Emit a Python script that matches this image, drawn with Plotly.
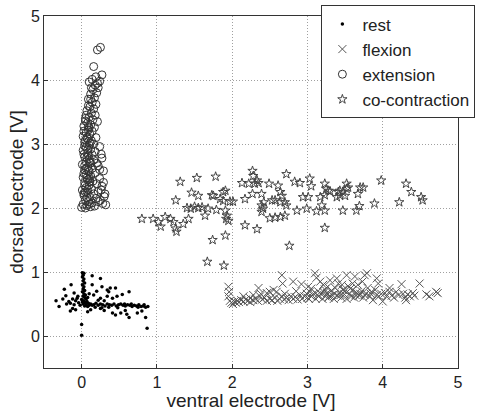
import plotly.graph_objects as go

# ---- data ----
rest_x = [0.01,0.03,0.02,0.01,0.03,0.02,0.04,0.01,0.03,0.02,0.04,0.01,0.03,0.05,0.02,0.04,0.06,0.00,0.03,0.07,0.01,0.05,0.09,0.02,0.06,0.10,0.04,0.08,0.12,0.14,0.00,0.00,
          -0.34,-0.30,-0.23,-0.14,-0.21,-0.17,-0.15,-0.10,-0.12,-0.08,-0.10,-0.06,-0.15,-0.04,-0.02,-0.05,-0.20,-0.25,-0.08,-0.12,
          0.14,0.25,0.14,0.27,0.34,0.36,0.38,0.45,0.16,0.25,0.34,0.41,0.47,0.54,0.63,0.20,0.10,0.30,0.22,0.08,
          0.16,0.19,0.22,0.25,0.28,0.31,0.34,0.37,0.40,0.43,0.46,0.49,0.52,0.55,0.58,0.61,0.64,0.67,0.70,0.73,0.76,0.79,0.82,0.85,0.88,0.18,0.27,0.36,0.48,0.57,0.66,0.75,0.83,
          0.25,0.41,0.45,0.52,0.60,0.63,0.74,0.80,0.85,0.87,0.08,0.12,0.30,0.58]
rest_y = [0.99,0.98,0.95,0.92,0.89,0.86,0.83,0.80,0.77,0.74,0.71,0.69,0.66,0.64,0.62,0.60,0.58,0.57,0.55,0.54,0.53,0.52,0.51,0.50,0.49,0.48,0.47,0.46,0.50,0.48,0.18,0.01,
          0.55,0.46,0.73,0.80,0.63,0.54,0.51,0.49,0.43,0.41,0.67,0.59,0.39,0.52,0.48,0.62,0.50,0.58,0.55,0.58,
          0.94,0.90,0.80,0.77,0.72,0.69,0.75,0.75,0.64,0.59,0.62,0.59,0.62,0.65,0.69,0.70,0.66,0.55,0.56,0.60,
          0.49,0.51,0.48,0.50,0.49,0.47,0.50,0.49,0.48,0.50,0.47,0.49,0.50,0.48,0.47,0.49,0.48,0.46,0.48,0.47,0.49,0.46,0.47,0.45,0.46,0.45,0.44,0.45,0.44,0.50,0.50,0.45,0.49,
          0.43,0.36,0.33,0.36,0.34,0.29,0.36,0.39,0.29,0.12,0.38,0.41,0.40,0.40]

flex_x = [1.95,1.96,1.95,1.97,1.99,2.01,2.03,2.05,2.07,2.09,2.12,2.15,2.18,2.21,2.24,2.24,2.28,2.28,2.31,2.35,2.37,2.34,2.40,2.43,2.46,2.46,2.50,2.50,2.53,2.55,2.57,2.59,2.60,2.63,2.66,2.67,2.66,2.69,2.72,2.75,2.78,2.81,2.81,2.84,2.87,2.90,2.92,2.93,2.96,2.99,3.01,3.02,3.03,3.05,3.08,3.10,3.12,3.11,3.14,3.15,3.17,3.18,3.20,3.21,3.23,3.24,3.26,3.28,3.30,3.31,3.33,3.35,3.37,3.39,3.40,3.41,3.43,3.45,3.47,3.49,3.52,3.52,3.54,3.56,3.58,3.60,3.62,3.63,3.65,3.67,3.69,3.72,3.74,3.76,3.78,3.79,3.80,3.83,3.85,3.87,3.90,3.92,3.94,3.95,3.98,4.00,4.03,4.05,4.09,4.09,4.12,4.15,4.18,4.21,4.25,4.27,4.30,4.31,4.33,4.36,4.40,4.42,4.49,4.58,4.62,4.71,4.73,
          2.15,2.38,2.70,2.85,3.00,3.05,3.13,3.22,3.29,3.36,3.44,3.50,3.57,3.64,3.70,3.76,3.84,3.92,3.27,3.46,3.60,3.73]
flex_y = [0.77,0.69,0.62,0.55,0.52,0.50,0.54,0.52,0.55,0.53,0.56,0.54,0.57,0.55,0.59,0.53,0.64,0.56,0.58,0.75,0.62,0.55,0.57,0.60,0.67,0.55,0.69,0.58,0.56,0.72,0.60,0.69,0.55,0.58,0.95,0.82,0.62,0.57,0.60,0.56,0.62,0.85,0.58,0.61,0.57,0.64,0.81,0.58,0.62,0.66,0.77,0.58,0.69,0.62,0.66,0.98,0.91,0.58,0.70,0.62,0.85,0.66,0.58,0.80,0.73,0.62,0.67,0.60,0.87,0.70,0.64,0.58,0.75,0.90,0.63,0.82,0.68,0.60,0.72,0.65,0.95,0.58,0.78,0.66,0.62,0.72,0.60,0.93,0.68,0.80,0.63,0.70,0.60,0.95,0.66,0.98,0.75,0.62,0.69,0.56,0.72,0.90,0.82,0.62,0.66,0.54,0.67,0.62,0.75,0.69,0.63,0.60,0.69,0.64,0.81,0.66,0.60,0.56,0.65,0.62,0.67,0.63,0.82,0.65,0.62,0.69,0.67,
          0.62,0.66,0.66,0.70,0.60,0.74,0.64,0.68,0.62,0.66,0.64,0.70,0.74,0.64,0.66,0.64,0.66,0.64,0.77,0.80,0.82,0.85]

ext_x = [0.21,0.25,0.16,0.14,0.21,0.27,0.24,0.10,0.18,0.15,0.20,0.12,0.17,0.09,0.14,0.19,0.11,0.16,0.07,0.13,0.18,0.10,0.05,0.15,0.21,0.08,0.12,0.03,0.17,0.09,0.14,0.06,0.11,0.02,0.19,0.08,0.13,0.04,0.16,0.10,0.24,0.06,0.12,0.02,0.18,0.08,0.14,0.04,0.27,0.10,0.16,0.06,0.12,0.01,0.22,0.08,0.14,0.04,0.29,0.10,0.18,0.06,0.12,0.02,0.24,0.08,0.15,0.04,0.20,0.10,0.27,0.06,0.13,0.01,0.22,0.08,0.16,0.03,0.30,0.11,0.19,0.05,0.25,0.09,0.14,0.02,0.32,0.07,0.12,0.00,0.17,0.05,0.28,0.22,0.31,0.26,0.29,0.24,0.20,0.26,
         0.05,0.09,0.03,0.07,0.11,0.04,0.08,0.03,0.07,0.11,0.04,0.09,0.03,0.07,0.11,0.04,0.08,0.03,0.07,0.10,0.06,0.09,0.12,0.13,0.19,0.22,0.05,0.10,0.06,0.09,0.05,0.10]
ext_y = [4.47,4.51,4.21,4.01,3.95,4.08,3.98,3.97,3.92,3.85,3.80,3.78,3.72,3.70,3.65,3.62,3.58,3.55,3.52,3.48,3.45,3.42,3.40,3.38,3.35,3.33,3.30,3.28,3.26,3.22,3.20,3.18,3.15,3.12,3.10,3.08,3.05,3.03,3.00,2.98,2.96,2.95,2.92,2.90,2.88,2.86,2.83,2.80,2.78,2.77,2.75,2.72,2.70,2.68,2.66,2.64,2.62,2.60,2.58,2.57,2.55,2.52,2.50,2.48,2.46,2.44,2.42,2.40,2.38,2.36,2.34,2.32,2.30,2.28,2.26,2.24,2.22,2.20,2.18,2.17,2.15,2.13,2.12,2.10,2.08,2.06,2.05,2.04,2.02,2.01,2.03,2.00,2.07,2.10,2.22,2.28,2.40,2.60,2.70,2.84,
         3.36,3.27,3.20,3.10,3.01,2.97,2.91,2.84,2.79,2.72,2.66,2.59,2.54,2.47,2.41,2.35,2.29,2.23,2.16,2.06,3.45,3.60,3.70,3.88,4.05,3.88,2.25,2.45,2.62,2.82,3.06,3.25]

cc_x = [0.80,0.95,1.02,1.05,1.11,1.18,1.22,1.25,1.26,1.25,1.31,1.35,1.42,1.40,1.46,1.45,1.50,1.53,1.55,1.55,1.60,1.64,1.67,1.68,1.73,1.74,1.75,1.78,1.79,1.84,1.88,1.88,1.89,1.91,1.91,1.91,1.93,1.92,1.95,1.97,2.01,2.13,2.17,2.17,2.22,2.27,2.28,2.30,2.33,2.27,2.33,2.35,2.39,2.39,2.42,2.41,2.39,2.49,2.50,2.53,2.57,2.57,2.61,2.64,2.66,2.64,2.64,2.70,2.70,2.72,2.72,2.76,2.83,2.86,2.90,2.94,2.99,3.01,3.03,3.05,3.12,3.17,3.19,3.23,3.23,3.23,3.23,3.25,3.28,3.30,3.39,3.41,3.43,3.43,3.47,3.47,3.50,3.52,3.52,3.54,3.65,3.67,3.69,3.70,3.74,3.89,3.98,4.22,4.31,4.38,4.51,4.53]
cc_y = [1.83,1.83,1.78,1.71,1.86,1.83,1.78,1.68,1.63,2.12,2.41,1.75,1.83,2.00,2.24,1.99,2.02,2.47,2.19,2.00,2.01,1.88,1.16,1.99,2.20,1.50,2.19,2.49,1.97,2.14,2.25,2.11,1.10,2.27,1.96,1.57,1.88,1.83,1.80,2.10,2.10,2.39,2.14,1.73,2.38,2.58,2.50,2.38,2.43,2.22,1.67,2.39,2.22,2.04,2.09,1.99,1.94,2.38,1.84,2.12,2.12,1.85,2.35,2.25,2.19,2.09,1.86,2.09,1.88,2.53,2.04,1.41,2.41,1.96,2.39,2.17,1.99,2.17,2.46,2.34,1.95,2.17,2.04,1.96,2.20,2.38,1.69,2.30,2.27,2.26,2.17,2.25,2.20,2.27,1.96,2.25,2.19,2.30,2.38,2.32,1.96,2.22,2.03,2.32,2.32,2.07,2.43,2.09,2.38,2.25,2.17,2.12]

x_ticks = [0, 1, 2, 3, 4, 5]
y_ticks = [0, 1, 2, 3, 4, 5]

FONT = "Liberation Sans, Arial, sans-serif"

fig = go.Figure()
fig.add_trace(go.Scatter(x=rest_x, y=rest_y, mode="markers", name="rest",
                         marker=dict(symbol="circle", size=3.5, color="black", line=dict(width=0))))
fig.add_trace(go.Scatter(x=flex_x, y=flex_y, mode="markers", name="flexion",
                         marker=dict(symbol="x-thin-open", size=8, color="#555555",
                                     line=dict(width=1, color="#555555"))))
fig.add_trace(go.Scatter(x=ext_x, y=ext_y, mode="markers", name="extension",
                         marker=dict(symbol="circle-open", size=8, color="#333333",
                                     line=dict(width=1, color="#333333"))))
fig.add_trace(go.Scatter(x=cc_x, y=cc_y, mode="markers", name="co-contraction",
                         marker=dict(symbol="star-open", size=7, color="#444444",
                                     line=dict(width=1, color="#444444"))))

axis_common = dict(showgrid=True, gridcolor="#a0a0a0", griddash="1px,2px", gridwidth=1,
                   showline=True, linecolor="#333333", linewidth=1, mirror=True,
                   ticks="inside", ticklen=4, tickcolor="#333333", zeroline=False,
                   tickfont=dict(family=FONT, size=16, color="#222222"))

fig.update_xaxes(range=[-0.5, 5], tickvals=x_ticks, **axis_common,
                 title=dict(text="ventral electrode [V]", font=dict(family=FONT, size=19, color="#222222"),
                            standoff=0))
fig.update_yaxes(range=[-0.5, 5], tickvals=y_ticks, **axis_common,
                 title=dict(text="dorsal electrode [V]", font=dict(family=FONT, size=19, color="#222222"),
                            standoff=2))

fig.update_layout(
    width=477, height=411,
    margin=dict(l=44, r=19, t=16, b=43, autoexpand=False),
    paper_bgcolor="white", plot_bgcolor="white",
    font=dict(family=FONT, color="#222222"),
    legend=dict(x=0.67, y=1.03, xanchor="left", yanchor="top",
                bgcolor="white", bordercolor="#333333", borderwidth=1,
                font=dict(family=FONT, size=17, color="#222222"),
                itemwidth=30, tracegroupgap=0),
)

fig.write_html("out.html")
